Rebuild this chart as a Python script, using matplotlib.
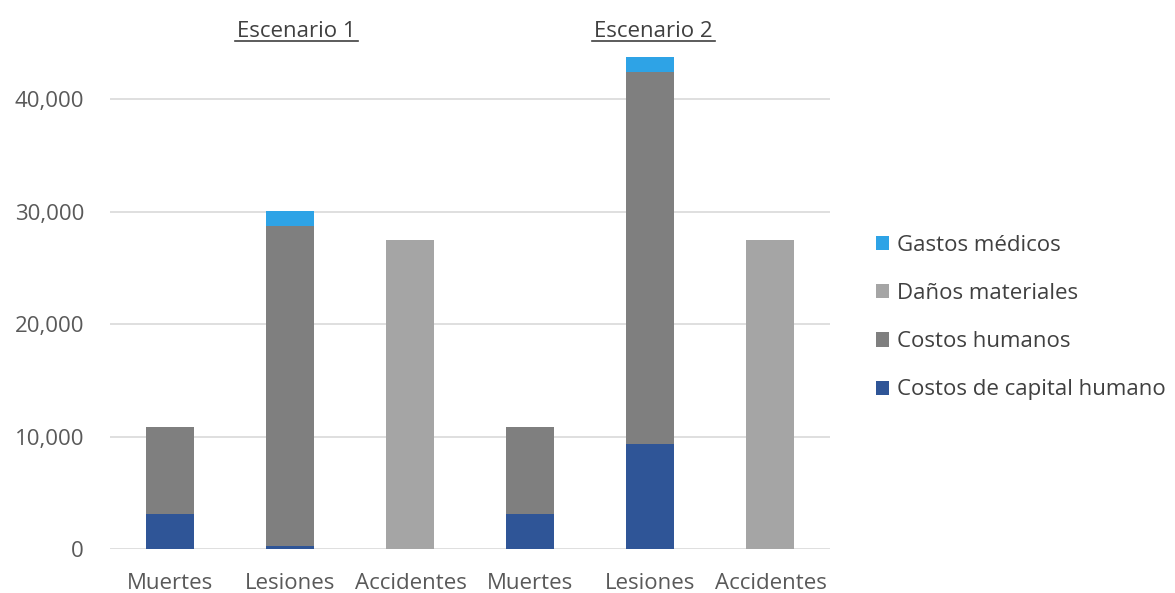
import numpy as np
import matplotlib.pyplot as plt

plt.rcParams['font.family'] = ['Open Sans', 'DejaVu Sans']

# Data
categorias = ['Muertes', 'Lesiones', 'Accidentes', 'Muertes', 'Lesiones', 'Accidentes']
escenarios = ['Escenario 1', 'Escenario 2']
capital_humano = [3090, 290, 0, 3090, 9370, 0]
costos_humanos = [7790, 28470, 0, 7790, 33090, 0]
danos_materiales = [0, 0, 27490, 0, 0, 27490]
gastos_medicos = [0, 1340, 0, 0, 1280, 0]

series = [
    ('Costos de capital humano', capital_humano, '#2F5597'),
    ('Costos humanos', costos_humanos, '#7F7F7F'),
    ('Daños materiales', danos_materiales, '#A5A5A5'),
    ('Gastos médicos', gastos_medicos, '#2EA3E6'),
]

fig = plt.figure(figsize=(11.75, 5.93), dpi=100)
ax = fig.add_axes([0.094, 0.0742, 0.6128, 0.8533])

x = np.arange(len(categorias))
bottom = np.zeros(len(categorias))
handles = []
for name, vals, color in series:
    vals = np.array(vals, dtype=float)
    h = ax.bar(x, vals, width=0.4, bottom=bottom, color=color, label=name, zorder=3)
    handles.append(h)
    bottom += vals

ax.set_xlim(-0.5, len(categorias) - 0.5)
ax.set_ylim(0, 45000)
ax.set_yticks([0, 10000, 20000, 30000, 40000])
ax.yaxis.set_major_formatter(plt.FuncFormatter(lambda v, p: f'{int(v):,}'))
ax.set_xticks(x)
ax.set_xticklabels(categorias)
ax.tick_params(length=0, labelsize=16, colors='#595959')
ax.tick_params(axis='x', pad=17)
ax.tick_params(axis='y', pad=19)
ax.grid(axis='y', color='#D9D9D9', linewidth=1.2, zorder=0)
for s in ax.spines.values():
    s.set_visible(False)

# scenario headers (underlined)
trans = ax.get_xaxis_transform()
for xc, esc in zip([1.05, 4.025], escenarios):
    ax.text(xc, 1.012, esc, transform=trans, ha='center', va='baseline',
            fontsize=16, color='#404040')
    ax.plot([xc - 0.51, xc + 0.51], [1.004, 1.004], transform=trans,
            color='#404040', linewidth=1.2, clip_on=False)

leg = ax.legend(handles[::-1], [s[0] for s in series][::-1], loc='center left',
                bbox_to_anchor=(1.035, 0.457), frameon=False, fontsize=16,
                handlelength=0.6, handleheight=0.6, handletextpad=0.35, labelspacing=1.22)
for t in leg.get_texts():
    t.set_color('#404040')

fig.savefig('out.png', dpi=100)
